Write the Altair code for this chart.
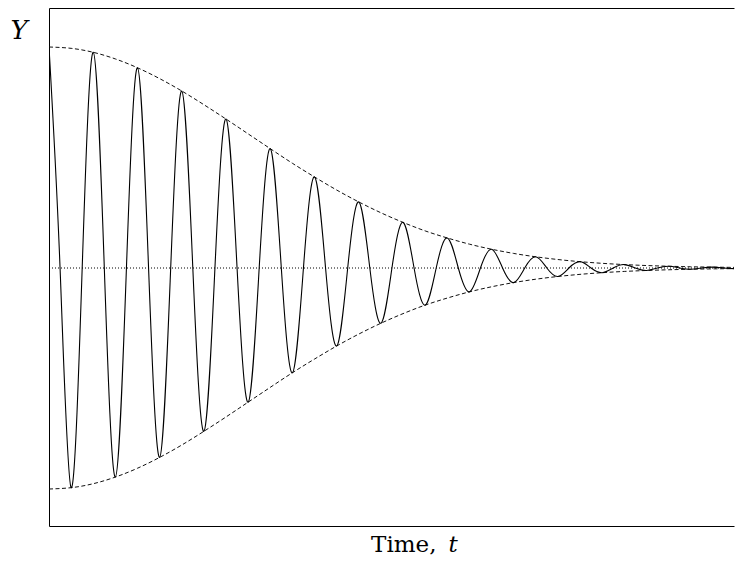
import altair as alt
import pandas as pd

# extremes of the oscillation (time in periods, signed amplitude)
ext_t = [0.0, 0.5, 1.0, 1.5, 2.0, 2.5, 3.0, 3.5, 4.0, 4.5, 5.0, 5.5, 6.0, 6.5, 7.0, 7.5,
         8.0, 8.5, 9.0, 9.5, 10.0, 10.5, 11.0, 11.5, 12.0, 12.5, 13.0, 13.5, 14.0, 14.5, 15.0, 15.5]
ext_y = [1.000, -0.994, 0.976, -0.946, 0.906, -0.857, 0.801, -0.739, 0.674, -0.607, 0.540, -0.474,
         0.412, -0.353, 0.299, -0.250, 0.2065, -0.168, 0.136, -0.108, 0.085, -0.066, 0.0507, -0.0384,
         0.0287, -0.0212, 0.0155, -0.0112, 0.0080, -0.0056, 0.0039, -0.0027]
# zero crossings
zero_t = [0.25, 0.75, 1.25, 1.75, 2.25, 2.75, 3.25, 3.75, 4.25, 4.75, 5.25, 5.75, 6.25, 6.75,
          7.25, 7.75, 8.25, 8.75, 9.25, 9.75, 10.25, 10.75, 11.25, 11.75, 12.25, 12.75, 13.25,
          13.75, 14.25, 14.75, 15.25, 15.75]
# envelope
env_t = [0.0, 0.5, 1.0, 1.5, 2.0, 2.5, 3.0, 3.5, 4.0, 4.5, 5.0, 5.5, 6.0, 6.5, 7.0, 7.5,
         8.0, 8.5, 9.0, 9.5, 10.0, 10.5, 11.0, 11.5, 12.0, 12.5, 13.0, 13.5, 14.0, 14.5, 15.0, 15.5, 15.77]
env_a = [1.000, 0.994, 0.976, 0.946, 0.906, 0.857, 0.801, 0.739, 0.674, 0.607, 0.540, 0.474,
         0.412, 0.353, 0.299, 0.250, 0.2065, 0.168, 0.136, 0.108, 0.085, 0.066, 0.0507, 0.0384,
         0.0287, 0.0212, 0.0155, 0.0112, 0.0080, 0.0056, 0.0039, 0.0027, 0.0022]

osc_df = pd.DataFrame({"t": ext_t + zero_t, "y": ext_y + [0.0] * len(zero_t)}).sort_values("t")
env_df = pd.DataFrame({
    "t": env_t + env_t,
    "y": env_a + [-a for a in env_a],
    "side": ["upper"] * len(env_t) + ["lower"] * len(env_t),
})
zero_df = pd.DataFrame({"y": [0.0]})

Xs = alt.Scale(domain=[0, 15.48], nice=False, zero=False)
Ys = alt.Scale(domain=[-1.1674, 1.1765], nice=False, zero=False)

y_axis = alt.Axis(
    orient="left", title="Y", titleFontStyle="italic", labels=False, ticks=False, grid=False,
    domain=True, titleAngle=0, titleX=-39, titleY=30, titleAlign="left",
    titleBaseline="alphabetic", titleFontSize=26)

zero_line = alt.Chart(zero_df).mark_rule(color="black", strokeWidth=1, strokeDash=[1, 2]).encode(
    y=alt.Y("y:Q", scale=Ys, axis=None)
)

env = alt.Chart(env_df).mark_line(
    color="#111111", strokeWidth=1, strokeDash=[4, 2.5], interpolate="natural", clip=True
).encode(
    x=alt.X("t:Q", scale=Xs, axis=alt.Axis(
        orient="top", title="t", titleFontStyle="italic", labels=False, ticks=False, grid=False,
        domain=True, titleX=399, titleY=543, titleAlign="left", titleBaseline="alphabetic",
        titleAngle=0, titleFontSize=23)),
    y=alt.Y("y:Q", scale=Ys, axis=None),
    detail="side:N",
)

osc = alt.Chart(osc_df).mark_line(color="black", strokeWidth=1.1, interpolate="natural", clip=True).encode(
    x=alt.X("t:Q", scale=Xs, axis=alt.Axis(
        orient="bottom", title="Time,", labels=False, ticks=False, grid=False, domain=True,
        titleX=387, titleY=25, titleAlign="right", titleBaseline="alphabetic", titleFontSize=23)),
    y=alt.Y("y:Q", scale=Ys, axis=y_axis),
)

chart = alt.layer(zero_line, env, osc).resolve_axis(x="independent", y="independent").properties(
    width=685, height=518,
    padding={"left": 41, "top": 0, "right": 6, "bottom": 29},
    autosize=alt.AutoSizeParams(type="none"),
).configure_view(stroke=None).configure_axis(
    domainColor="black", domainWidth=1, titleFont="DejaVu Serif", titleFontWeight="normal",
    titleColor="black",
)

chart.save("out.html", embed_options={"renderer": "svg", "actions": False})
